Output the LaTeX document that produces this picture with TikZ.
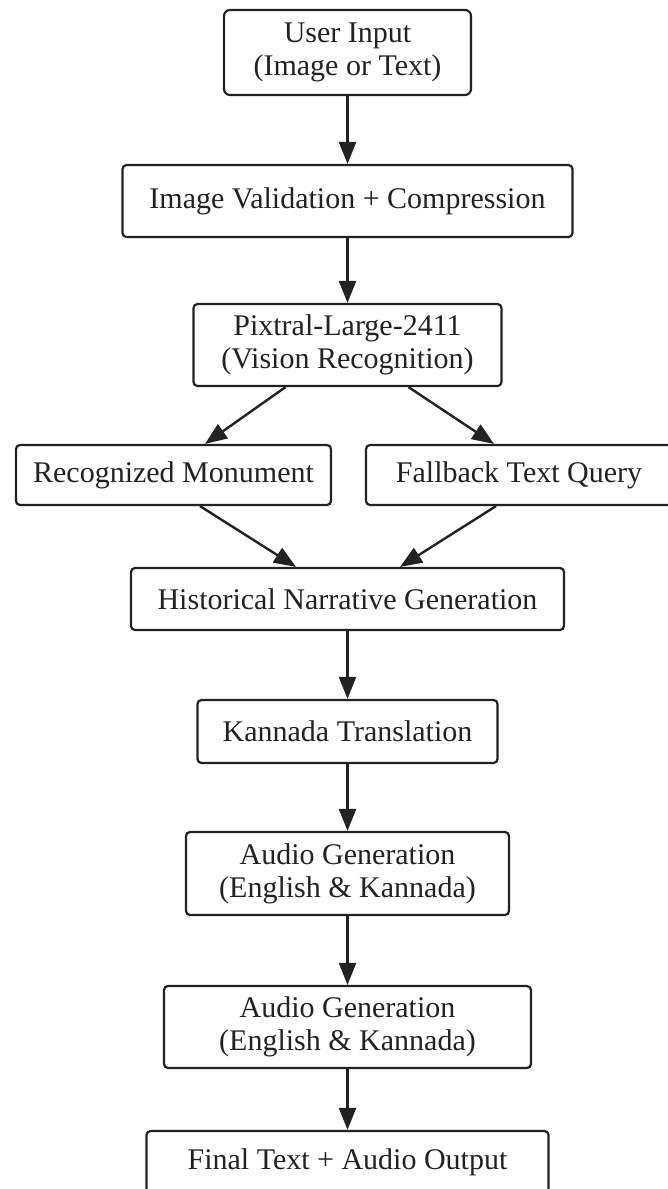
\documentclass[tikz,border=0pt]{standalone}
\usepackage{fontspec}
\setmainfont{Liberation Serif}
\usetikzlibrary{arrows.meta}
\definecolor{ink}{HTML}{222222}
\tikzset{
  box/.style={draw=ink, line width=2.2pt, rounded corners=4pt, fill=white,
    align=center, inner sep=0pt, text=ink,
    font=\fontsize{30}{33}\selectfont},
  conn/.style={draw=ink, line width=2.4pt, -{Triangle[length=22pt,width=17pt]}}
}
\begin{document}
\begin{tikzpicture}[x=1pt,y=-1pt]
\fill[white] (0,0) rectangle (668,1189);
\useasboundingbox (0,0) rectangle (668,1189);
\node[box, minimum width=247pt, minimum height=85pt, rounded corners=6pt] (n1) at (347.5,52.5) {User Input\\(Image or Text)};
\node[box, minimum width=450pt, minimum height=72pt] (n2) at (347.5,201) {Image Validation + Compression};
\node[box, minimum width=308pt, minimum height=82pt] (n3) at (347.5,345) {Pixtral-Large-2411\\(Vision Recognition)};
\node[box, minimum width=315pt, minimum height=60pt] (n4) at (173.5,475) {Recognized Monument};
\node[box, minimum width=306pt, minimum height=60pt] (n5) at (519,475) {Fallback Text Query};
\node[box, minimum width=433pt, minimum height=62pt] (n6) at (347.5,599) {Historical Narrative Generation};
\node[box, minimum width=300pt, minimum height=63pt] (n7) at (347.5,731.5) {Kannada Translation};
\node[box, minimum width=323pt, minimum height=83pt] (n8) at (347.5,873.5) {Audio Generation\\(English \& Kannada)};
\node[box, minimum width=367pt, minimum height=82pt] (n9) at (347.5,1027) {Audio Generation\\(English \& Kannada)};
\node[box, minimum width=402pt, minimum height=62pt] (n10) at (347.5,1162) {Final Text + Audio Output};
\draw[conn] (n1.south) -- (n2.north);
\draw[conn] (n2.south) -- (n3.north);
\draw[conn] ([xshift=-62pt]n3.south) -- ([xshift=31.5pt]n4.north);
\draw[conn] ([xshift=61pt]n3.south) -- ([xshift=-25pt]n5.north);
\draw[conn] ([xshift=26.5pt]n4.south) -- ([xshift=-51.5pt]n6.north);
\draw[conn] ([xshift=-23pt]n5.south) -- ([xshift=52.5pt]n6.north);
\draw[conn] (n6.south) -- (n7.north);
\draw[conn] (n7.south) -- (n8.north);
\draw[conn] (n8.south) -- (n9.north);
\draw[conn] (n9.south) -- (n10.north);
\end{tikzpicture}
\end{document}
